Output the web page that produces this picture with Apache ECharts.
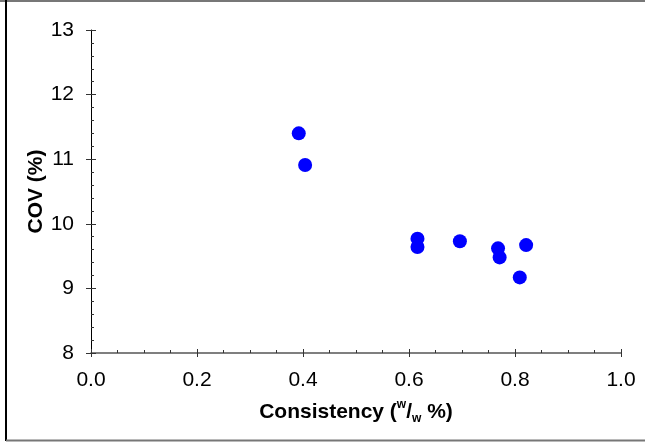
<!DOCTYPE html>
<html>
<head>
<meta charset="utf-8">
<script src="https://cdn.jsdelivr.net/npm/echarts@6/dist/echarts.min.js"></script>
<style>
  html, body { margin: 0; padding: 0; background: #fff; }
  #chart { width: 645px; height: 445px; }
</style>
</head>
<body>
<div id="chart"></div>
<script>
// consistency (w/w %) vs COV (%)
var consistency = [0.392, 0.404, 0.616, 0.616, 0.696, 0.768, 0.771, 0.821, 0.809];
var cov = [11.40, 10.91, 9.77, 9.64, 9.73, 9.62, 9.48, 9.67, 9.17];

var xTicks = [0, 0.2, 0.4, 0.6, 0.8, 1.0];
var yTicks = [8, 9, 10, 11, 12, 13];

var points = consistency.map(function (x, i) { return [x, cov[i]]; });

var myChart = echarts.init(document.getElementById('chart'));

var labelFont = {
  fontFamily: 'Liberation Sans, Arial, sans-serif',
  fontSize: 21,
  color: '#000'
};

var option = {
  animation: false,
  backgroundColor: '#fff',
  grid: {
    left: 91,
    right: 24,
    top: 30,
    bottom: 92
  },
  xAxis: [
    {
      type: 'value',
      min: xTicks[0],
      max: xTicks[xTicks.length - 1],
      interval: 0.2,
      position: 'bottom',
      axisLine: { show: true, onZero: false, lineStyle: { color: '#555', width: 1.5 } },
      axisTick: { show: true, inside: true, length: 4, lineStyle: { color: '#333' } },
      minorTick: { show: true, splitNumber: 4, length: 3, lineStyle: { color: '#333' } },
      splitLine: { show: false },
      axisLabel: Object.assign({ margin: 17, formatter: function (v) { return v.toFixed(1); } }, labelFont),
      name: 'Consistency ({sup|w}/{sub|w} %)',
      nameLocation: 'middle',
      nameGap: 46,
      nameTextStyle: {
        fontFamily: 'Liberation Sans, Arial, sans-serif',
        fontSize: 21,
        fontWeight: 'bold',
        color: '#000',
        lineHeight: 26,
        rich: {
          sup: { fontSize: 12, fontWeight: 'bold', verticalAlign: 'top', lineHeight: 26, padding: [0, 0, 10, 0] },
          sub: { fontSize: 12, fontWeight: 'bold', verticalAlign: 'bottom', lineHeight: 26, padding: [10, 0, 0, 0] }
        }
      }
    },
    {
      type: 'value',
      min: xTicks[0],
      max: xTicks[xTicks.length - 1],
      interval: 0.2,
      position: 'bottom',
      axisLine: { show: false },
      axisTick: { show: true, inside: false, length: 4, lineStyle: { color: '#333' } },
      axisLabel: { show: false },
      splitLine: { show: false }
    }
  ],
  yAxis: [
    {
      type: 'value',
      min: yTicks[0],
      max: yTicks[yTicks.length - 1],
      interval: 1,
      position: 'left',
      axisLine: { show: true, onZero: false, lineStyle: { color: '#000', width: 1 } },
      axisTick: { show: true, inside: true, length: 5, lineStyle: { color: '#333' } },
      minorTick: { show: true, splitNumber: 5, length: 3, lineStyle: { color: '#333' } },
      splitLine: { show: false },
      axisLabel: Object.assign({ margin: 17 }, labelFont),
      name: 'COV (%)',
      nameLocation: 'middle',
      nameGap: 44,
      nameMoveOverlap: false,
      nameTextStyle: {
        fontFamily: 'Liberation Sans, Arial, sans-serif',
        fontSize: 21,
        fontWeight: 'bold',
        color: '#000'
      }
    },
    {
      type: 'value',
      min: yTicks[0],
      max: yTicks[yTicks.length - 1],
      interval: 1,
      position: 'left',
      axisLine: { show: false },
      axisTick: { show: true, inside: false, length: 5, lineStyle: { color: '#333' } },
      axisLabel: { show: false },
      splitLine: { show: false }
    }
  ],
  series: [
    {
      type: 'scatter',
      data: points,
      symbol: 'circle',
      symbolSize: 14,
      itemStyle: { color: '#0000ff', opacity: 1 }
    }
  ],
  graphic: [
    { type: 'line', shape: { x1: 0, y1: 1, x2: 645, y2: 1 }, style: { stroke: '#777', lineWidth: 2 } },
    { type: 'line', shape: { x1: 6, y1: 0, x2: 6, y2: 441 }, style: { stroke: '#000', lineWidth: 2 } },
    { type: 'line', shape: { x1: 6, y1: 440.5, x2: 645, y2: 440.5 }, style: { stroke: '#777', lineWidth: 2 } }
  ]
};

myChart.setOption(option);
</script>
</body>
</html>
